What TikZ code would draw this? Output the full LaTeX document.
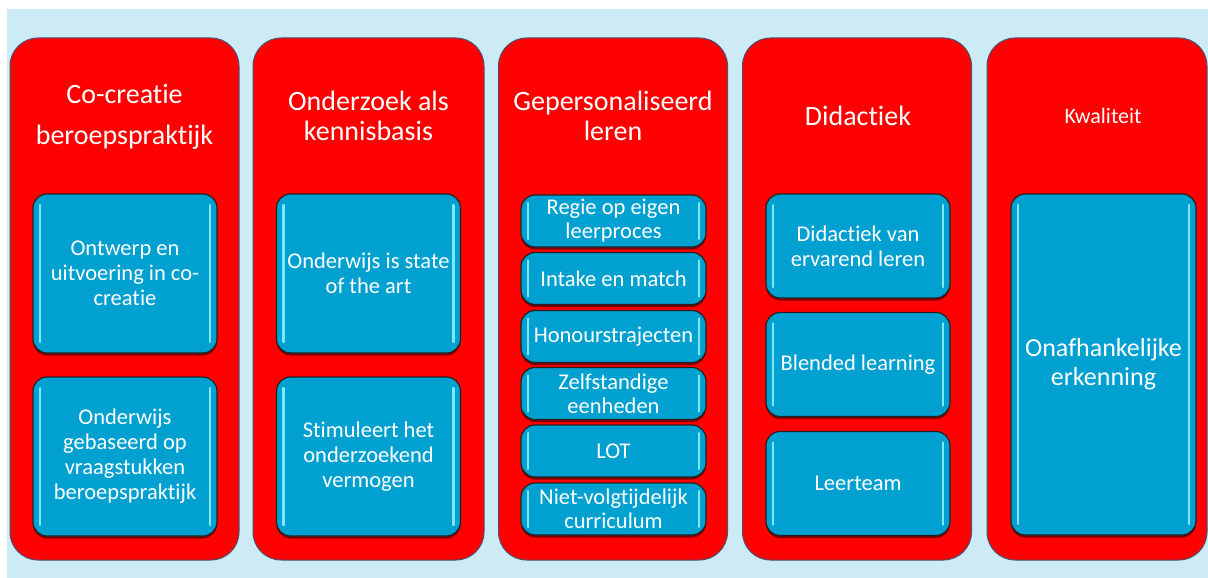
\documentclass[tikz,border=0pt]{standalone}
\usepackage{fontspec}
\setmainfont{Carlito}[Ligatures=NoCommon]
\usepackage{xcolor}
\usetikzlibrary{shadows}

\definecolor{bgblue}{RGB}{205,235,244}
\definecolor{panelred}{RGB}{255,0,0}
\definecolor{panelline}{RGB}{70,85,115}
\definecolor{boxblue}{RGB}{0,160,208}
\definecolor{boxline}{RGB}{35,35,35}
\definecolor{hilite}{RGB}{125,232,252}

\tikzset{
  panel/.style={draw=panelline, line width=1pt, fill=panelred, rounded corners=28pt,
    minimum width=229pt, minimum height=522pt, inner sep=0pt},
  title/.style={text=white, align=center, inner sep=0pt},
  item/.style={draw=boxline, line width=1.2pt, fill=boxblue, rounded corners=14pt,
    inner sep=0pt, text=white, align=center,
    drop shadow={shadow xshift=0pt, shadow yshift=-2.5pt, opacity=0.5, fill=black},
    path picture={
      \draw[hilite, line width=2.4pt, line cap=round]
        ([xshift=7pt,yshift=-#1]path picture bounding box.north west) --
        ([xshift=7pt,yshift=#1]path picture bounding box.south west)
        ([xshift=-7pt,yshift=-#1]path picture bounding box.north east) --
        ([xshift=-7pt,yshift=#1]path picture bounding box.south east);
    }},
  item/.default=11pt,
  bigitem/.style={item, minimum width=184pt, minimum height=159pt,
    font=\fontsize{22.5}{25}\selectfont},
  smallitem/.style={item=8pt, minimum width=185pt, minimum height=52pt,
    font=\fontsize{22.5}{24}\selectfont},
  miditem/.style={item, minimum width=184pt, minimum height=104pt,
    font=\fontsize{22.5}{25}\selectfont}
}

\begin{document}
\begin{tikzpicture}[x=1pt, y=-1pt]

  % Background
  \useasboundingbox (0,0) rectangle (1208,578);
  \fill[white] (0,0) rectangle (1208,578);
  \fill[bgblue] (7,9) rectangle (1208,578);

  % Red columns
  \node (p1) at (124.5,299) [panel] {};
  \node (p2) at (368.5,299) [panel, minimum width=231pt] {};
  \node (p3) at (613,299) [panel] {};
  \node (p4) at (857,299) [panel] {};
  \node (p5) at (1097,299) [panel, minimum width=220pt] {};

  % Column titles
  \node (t1) at (124.5,117) [title, font=\fontsize{28}{41}\selectfont] {Co-creatie\\beroepspraktijk};
  \node (t2) at (368.5,116) [title, font=\fontsize{28}{30}\selectfont] {Onderzoek als\\kennisbasis};
  \node (t3) at (613,116) [title, font=\fontsize{28}{30}\selectfont] {Gepersonaliseerd\\leren};
  \node (t4) at (858,116) [title, font=\fontsize{28}{32}\selectfont] {Didactiek};
  \node (t5) at (1103,116) [title, font=\fontsize{22}{26}\selectfont] {Kwaliteit};

  % Co-creatie
  \node (a1) at (125,273.5) [bigitem] {Ontwerp en\\uitvoering in co-\\creatie};
  \node (a2) at (125,456.5) [bigitem] {Onderwijs\\gebaseerd op\\vraagstukken\\beroepspraktijk};

  % Onderzoek
  \node (b1) at (368.5,273.5) [bigitem] {Onderwijs is state\\of the art};
  \node (b2) at (368.5,456.5) [bigitem] {Stimuleert het\\onderzoekend\\vermogen};

  % Gepersonaliseerd leren
  \node (c1) at (613.5,221) [smallitem] {Regie op eigen\\leerproces};
  \node (c2) at (613.5,278.5) [smallitem] {Intake en match};
  \node (c3) at (613.5,336.5) [smallitem] {Honourstrajecten};
  \node (c4) at (613.5,393.5) [smallitem] {Zelfstandige\\eenheden};
  \node (c5) at (613.5,451) [smallitem] {LOT};
  \node (c6) at (613.5,509) [smallitem] {Niet-volgtijdelijk\\curriculum};

  % Didactiek
  \node (d1) at (858,246) [miditem] {Didactiek van\\ervarend leren};
  \node (d2) at (858,364.5) [miditem] {Blended learning};
  \node (d3) at (858,483.5) [miditem] {Leerteam};

  % Kwaliteit
  \node (e1) at (1103.5,364.5) [item, minimum width=185pt, minimum height=341pt,
    font=\fontsize{26}{29}\selectfont] {Onafhankelijke\\erkenning};

\end{tikzpicture}
\end{document}
